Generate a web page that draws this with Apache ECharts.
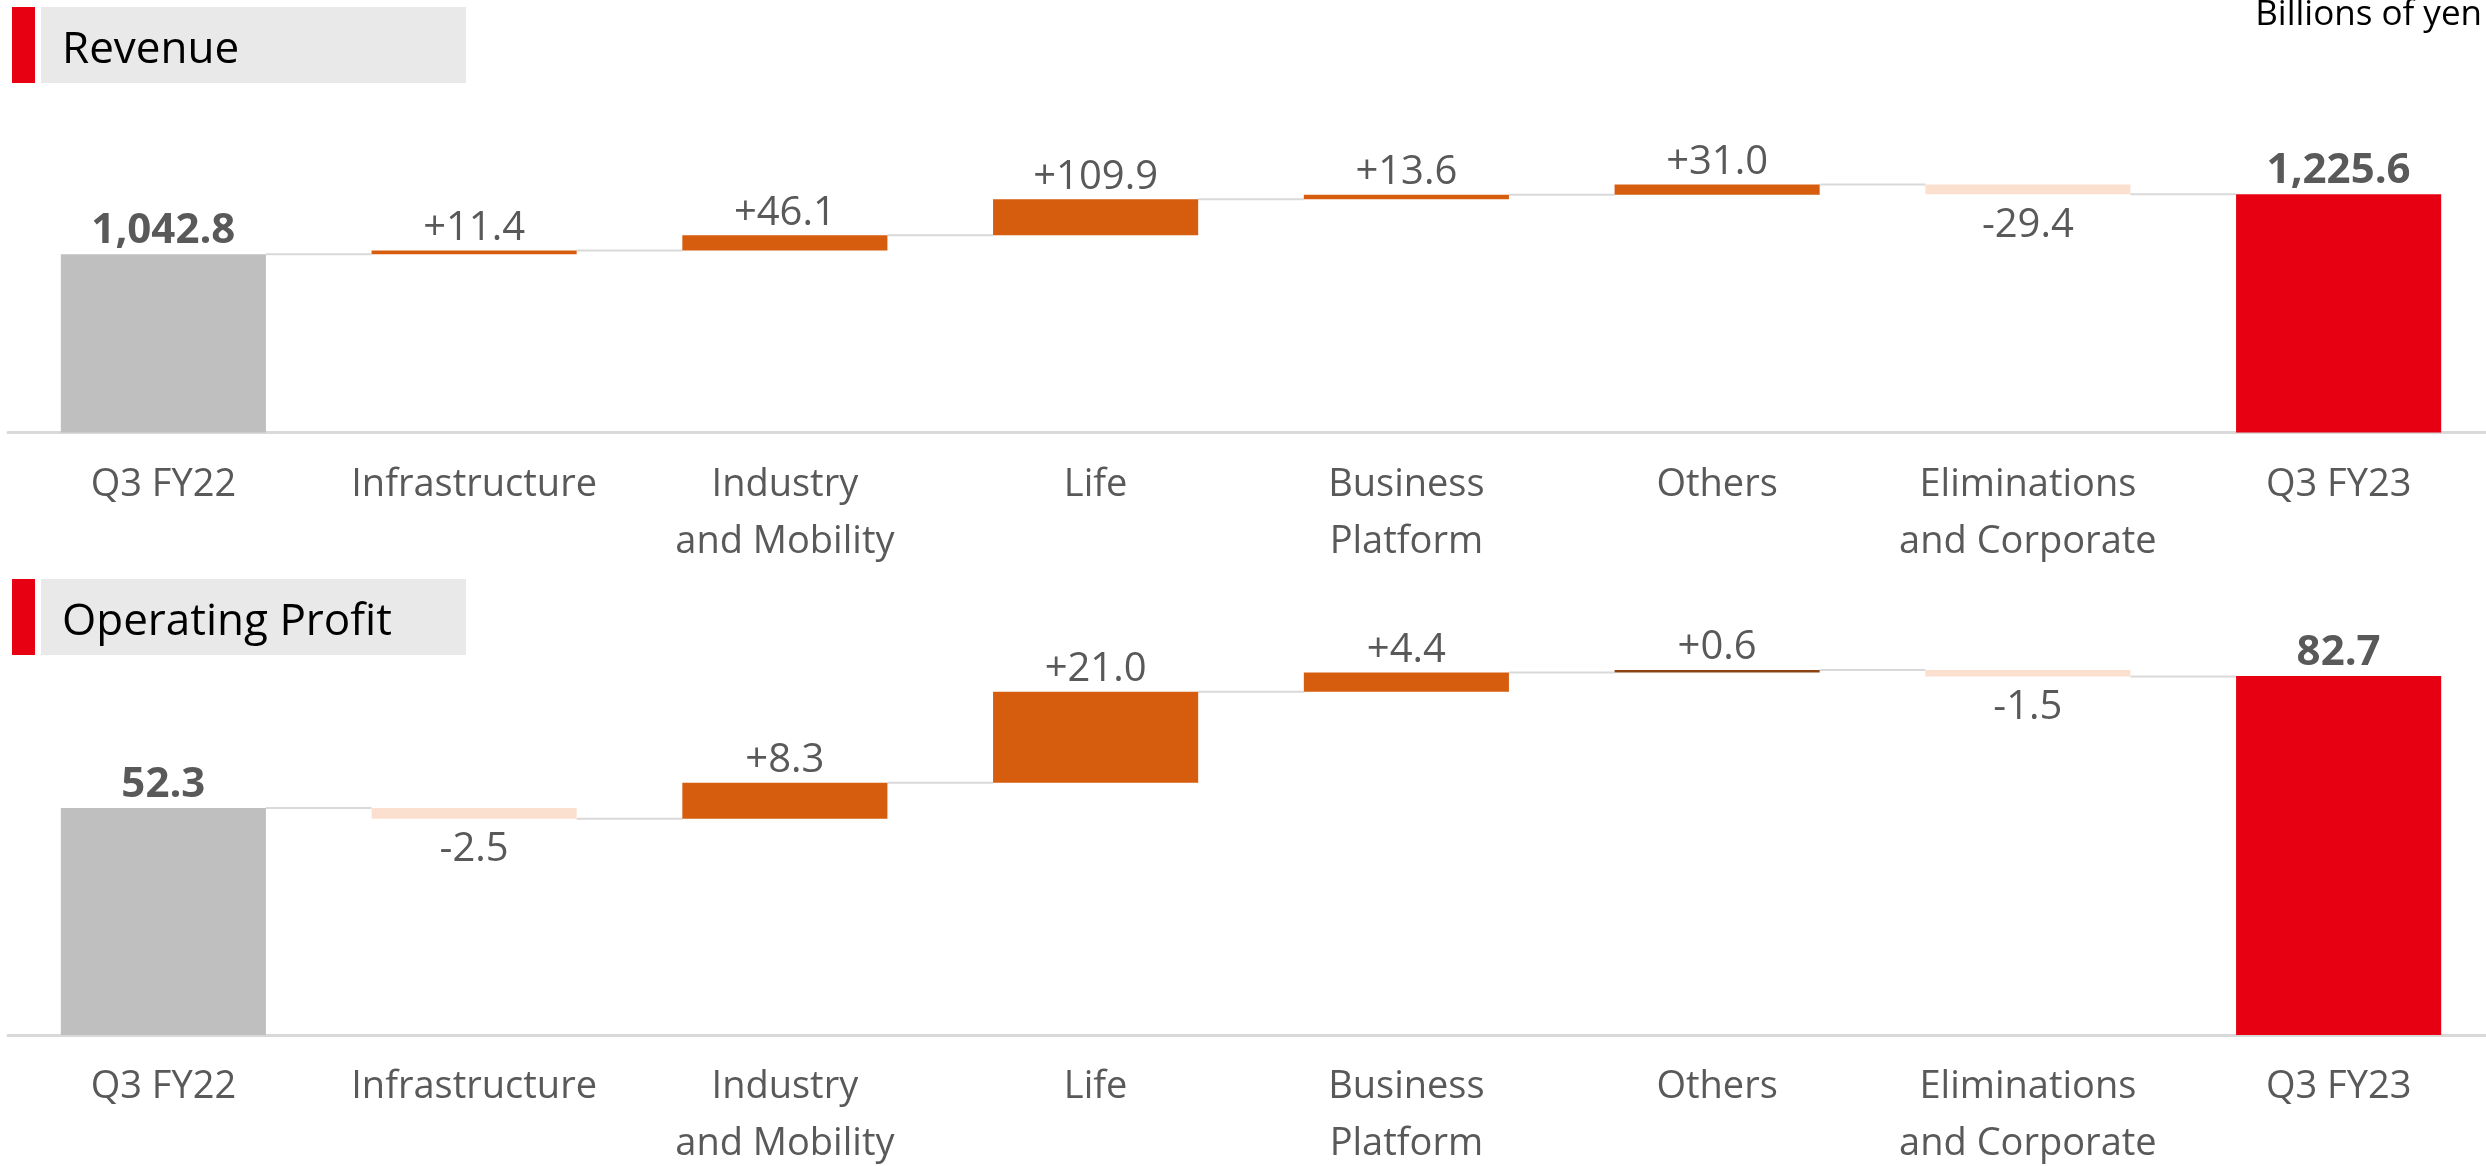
<!DOCTYPE html>
<html>
<head>
<meta charset="utf-8">
<style>
  html, body { margin: 0; padding: 0; background: #fff; overflow: hidden; }
  #chart { width: 2486px; height: 1166px; }
</style>
<script src="https://cdn.jsdelivr.net/npm/echarts@6/dist/echarts.min.js"></script>
</head>
<body>
<div id="chart"></div>
<script>
const categories = ["Q3 FY22", "Infrastructure", "Industry\nand Mobility", "Life",
  "Business\nPlatform", "Others", "Eliminations\nand Corporate", "Q3 FY23"];

// Revenue, billions of yen
const revenueStart = 1042.8;
const revenueDeltas = [11.4, 46.1, 109.9, 13.6, 31.0, -29.4];
const revenueEnd = 1225.6;

// Operating profit, billions of yen
const profitStart = 52.3;
const profitDeltas = [-2.5, 8.3, 21.0, 4.4, 0.6, -1.5];
const profitEnd = 82.7;

const FONT = "'Open Sans', 'Noto Sans', sans-serif";
const COLOR_START = "#BFBFBF";
const COLOR_END = "#E60012";
const COLOR_UP = "#D65C0E";
const COLOR_DOWN = "#FCE0CF";
const COLOR_THIN = "#8C4414";
const BAR_W = 0.66;

function fmtTotal(v) {
  return v.toLocaleString("en-US", { minimumFractionDigits: 1, maximumFractionDigits: 1 });
}
function fmtDelta(v) {
  return (v > 0 ? "+" : "") + v.toFixed(1);
}

// builds the base / visible / connector series of one waterfall panel
function panel(start, deltas, end, gi) {
  let base = ["-"];
  let bars = [{ value: start, itemStyle: { color: COLOR_START },
    label: { position: "top", fontWeight: "bold", fontSize: 42 } }];
  let texts = [fmtTotal(start)];
  let levels = [start];
  let run = start;
  deltas.forEach(function (d) {
    let next = run + d;
    base.push(Math.min(run, next));
    let col = d > 0 ? COLOR_UP : COLOR_DOWN;
    if (Math.abs(d) < 1) col = COLOR_THIN;
    bars.push({ value: Math.abs(d), itemStyle: { color: col },
      label: d >= 0 ? { position: "top" } : { position: "bottom", distance: 11 } });
    texts.push(fmtDelta(d));
    run = next;
    levels.push(run);
  });
  base.push("-");
  bars.push({ value: end, itemStyle: { color: COLOR_END },
    label: { position: "top", fontWeight: "bold", fontSize: 42 } });
  texts.push(fmtTotal(end));

  return [
    {
      type: "bar", xAxisIndex: gi, yAxisIndex: gi, stack: "wf" + gi,
      data: base, barWidth: BAR_W * 100 + "%", clip: true,
      itemStyle: { color: "transparent" }, silent: true,
    },
    {
      type: "bar", xAxisIndex: gi, yAxisIndex: gi, stack: "wf" + gi,
      data: bars, barWidth: BAR_W * 100 + "%", clip: true,
      label: {
        show: true, distance: 2, color: "#595959", fontSize: 40, fontFamily: FONT,
        formatter: function (p) { return texts[p.dataIndex]; },
      },
    },
    {
      type: "custom", xAxisIndex: gi, yAxisIndex: gi, z: 1,
      data: levels.map(function (l, i) { return [i, l]; }),
      renderItem: function (params, api) {
        let i = api.value(0);
        let a = api.coord([i, api.value(1)]);
        let b = api.coord([i + 1, api.value(1)]);
        let hw = api.size([1, 0])[0] * BAR_W / 2;
        return {
          type: "line",
          shape: { x1: a[0] + hw, y1: a[1], x2: b[0] - hw, y2: b[1] },
          style: { stroke: "#D9D9D9", lineWidth: 2 },
        };
      },
    },
  ];
}

function titleBox(y, text) {
  return [
    { type: "rect", shape: { x: 12, y: y, width: 23, height: 76 }, style: { fill: "#E60012" } },
    { type: "rect", shape: { x: 41, y: y, width: 425, height: 76 }, style: { fill: "#E9E9E9" } },
    { type: "text", x: 62, y: y + 43, style: { text: text, fill: "#000", font: "44px " + FONT,
      verticalAlign: "middle" } },
  ];
}

const chart = echarts.init(document.getElementById("chart"));
chart.setOption({
  animation: false,
  grid: [
    { left: 8, width: 2486, top: 104, height: 328.5, outerBoundsMode: "none" },
    { left: 8, width: 2486, top: 601, height: 434, outerBoundsMode: "none" },
  ],
  xAxis: [0, 1].map(function (i) {
    return {
      type: "category", gridIndex: i, data: categories,
      axisLine: { lineStyle: { color: "#D9D9D9", width: 3 } },
      axisTick: { show: false },
      axisLabel: { interval: 0, color: "#595959", fontSize: 38, lineHeight: 57,
        margin: 24, fontFamily: FONT },
    };
  }),
  yAxis: [
    { type: "value", gridIndex: 0, min: 500, max: 1500, show: false },
    { type: "value", gridIndex: 1, min: 0, max: 100, show: false },
  ],
  graphic: titleBox(7, "Revenue").concat(titleBox(579, "Operating Profit")).concat([
    { type: "text", x: 2482, y: 15, style: { text: "Billions of yen", fill: "#000",
      font: "35px " + FONT, align: "right", verticalAlign: "middle" } },
  ]),
  series: panel(revenueStart, revenueDeltas, revenueEnd, 0)
    .concat(panel(profitStart, profitDeltas, profitEnd, 1)),
});
</script>
</body>
</html>
